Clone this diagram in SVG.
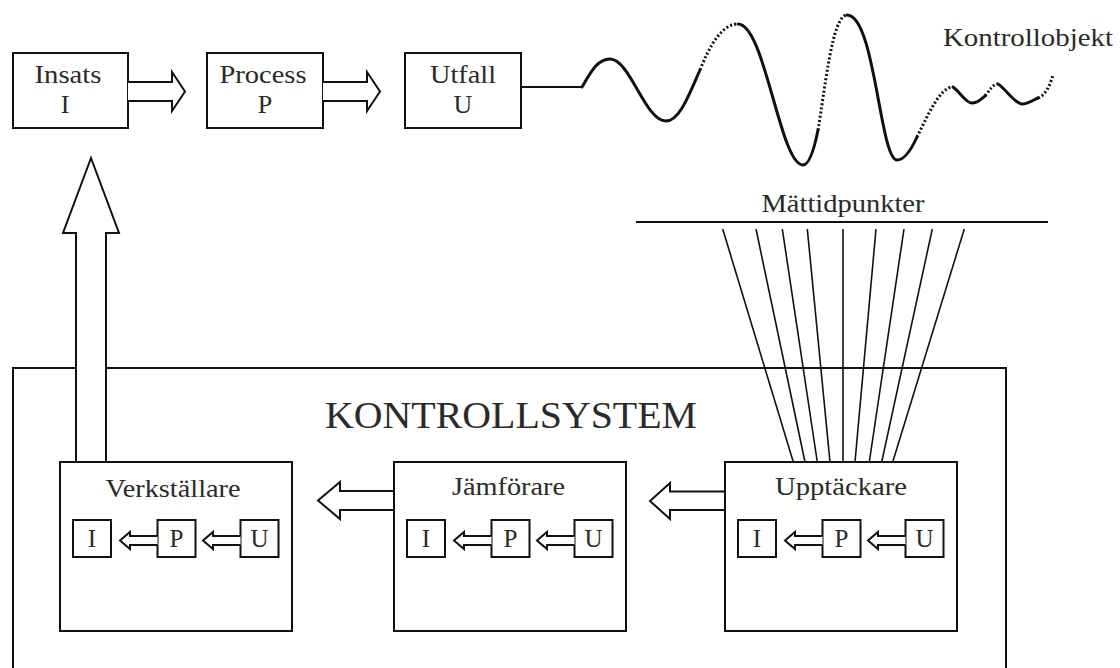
<svg xmlns="http://www.w3.org/2000/svg" width="1120" height="668" viewBox="0 0 1120 668">
<style>
.box{fill:#fff;stroke:#111;stroke-width:2}
.arr{fill:#fff;stroke:#111;stroke-width:2;stroke-linejoin:miter}
.ln{fill:none;stroke:#111;stroke-width:2}
.fan{fill:none;stroke:#111;stroke-width:1.6}
.wv{fill:none;stroke:#111;stroke-width:3;stroke-linecap:round;stroke-linejoin:round}
.dot{fill:none;stroke:#111;stroke-width:3;stroke-dasharray:2 2.2}
text{font-family:"Liberation Serif","Times New Roman",serif;fill:#2a2a2a;text-anchor:middle}
.t{font-size:26px}
.s{font-size:25px}
</style>
<rect width="1120" height="668" fill="#fff"/>

<g id="kontrollsystem">
<path class="ln" d="M13,668 V368 H1006 V668"/>
<text x="511" y="428" style="font-size:38px" textLength="372" lengthAdjust="spacingAndGlyphs">KONTROLLSYSTEM</text>
</g>

<g id="insats">
<rect class="box" x="13" y="53" width="115" height="75"/>
<text class="t" x="68" y="83" textLength="67" lengthAdjust="spacingAndGlyphs">Insats</text>
<text class="t" x="65" y="113">I</text>
</g>
<g id="process">
<rect class="box" x="207" y="53" width="116" height="75"/>
<text class="t" x="263" y="83" textLength="87" lengthAdjust="spacingAndGlyphs">Process</text>
<text class="t" x="265" y="113">P</text>
</g>
<g id="utfall">
<rect class="box" x="405" y="53" width="116" height="75"/>
<text class="t" x="463" y="83" textLength="66" lengthAdjust="spacingAndGlyphs">Utfall</text>
<text class="t" x="463" y="113">U</text>
</g>

<g id="kontrollobjekt">
<path class="wv" d="M582,87 C592,70 598,59 610,59 C630,59 645,121 666,121 C680,121 690,92 700,70"/>
<path class="dot" d="M700,70 C710,45 722,24 738,24"/>
<path class="wv" d="M738,24 C765,24 780,165 803,165 C810,165 815,145 818,130"/>
<path class="dot" d="M818,130 C825,90 832,15 847,15"/>
<path class="wv" d="M847,15 C875,15 880,160 897,160 C905,160 912,148 917,137"/>
<path class="dot" d="M917,137 C928,115 940,87 953,87"/>
<path class="wv" d="M953,87 C960,92 966,103 972,103 C978,103 981,99 985,96"/>
<path class="dot" d="M985,96 C990,90 993,84 998,84"/>
<path class="wv" d="M998,84 C1005,88 1015,104 1022,104 C1028,104 1033,100 1038,98"/>
<path class="dot" d="M1038,98 C1046,95 1050,85 1053,75"/>
<text class="t" x="1028" y="46" textLength="170" lengthAdjust="spacingAndGlyphs">Kontrollobjekt</text>
</g>

<g id="mattidpunkter">
<line class="ln" x1="636" y1="222" x2="1048" y2="222"/>
<text class="s" x="843" y="212" textLength="163" lengthAdjust="spacingAndGlyphs">Mättidpunkter</text>
</g>

<g id="connectors">
<path class="ln" d="M521,87 H582"/>
<path class="arr" d="M128,82 H172 V72 L185,91.5 L172,111 V101 H128"/>
<path class="arr" d="M323,82 H367 V72 L380,91.5 L367,111 V101 H323"/>
<path class="arr" d="M76,462 V233 H63 L91,158 L119,233 H106 V462"/>
<path class="arr" d="M394,491 H340 V482 L318,500.5 L340,519 V510 H394"/>
<path class="arr" d="M725,491.5 H670 V483 L650,501 L670,519 V510 H725"/>
<g class="fan-lines">
<line class="fan" x1="722.7" y1="229" x2="793.3" y2="462"/>
<line class="fan" x1="756" y1="229" x2="805" y2="462"/>
<line class="fan" x1="782.3" y1="229" x2="817.3" y2="462"/>
<line class="fan" x1="807.3" y1="229" x2="830" y2="462"/>
<line class="fan" x1="843" y1="229" x2="843" y2="462"/>
<line class="fan" x1="876" y1="229" x2="855" y2="462"/>
<line class="fan" x1="904" y1="229" x2="869.3" y2="462"/>
<line class="fan" x1="932.3" y1="229" x2="881.7" y2="462"/>
<line class="fan" x1="964.3" y1="229" x2="892.7" y2="462"/>
</g>
</g>

<g id="verkstallare">
<rect class="box" x="60" y="462" width="232" height="169"/>
<text class="t" x="173" y="497" textLength="135" lengthAdjust="spacingAndGlyphs">Verkställare</text>
<rect class="box" x="73" y="520" width="38" height="37"/>
<rect class="box" x="157.5" y="520" width="38" height="37"/>
<rect class="box" x="240.5" y="520" width="38" height="37"/>
<text class="s" x="92" y="547">I</text>
<text class="s" x="176.5" y="547">P</text>
<text class="s" x="259.5" y="547">U</text>
<path class="arr" d="M157.5,536 H130 V532 L120,540.5 L130,549 V545 H157.5"/>
<path class="arr" d="M240.5,536 H213 V532 L203,540.5 L213,549 V545 H240.5"/>
</g>

<g id="jamforare">
<rect class="box" x="394" y="462" width="232" height="169"/>
<text class="t" x="508.5" y="495" textLength="113" lengthAdjust="spacingAndGlyphs">Jämförare</text>
<rect class="box" x="407" y="520" width="38" height="37"/>
<rect class="box" x="491.5" y="520" width="38" height="37"/>
<rect class="box" x="574.5" y="520" width="38" height="37"/>
<text class="s" x="426" y="547">I</text>
<text class="s" x="510.5" y="547">P</text>
<text class="s" x="593.5" y="547">U</text>
<path class="arr" d="M491.5,536 H464 V532 L454,540.5 L464,549 V545 H491.5"/>
<path class="arr" d="M574.5,536 H547 V532 L537,540.5 L547,549 V545 H574.5"/>
</g>

<g id="upptackare">
<rect class="box" x="725" y="462" width="232" height="169"/>
<text class="t" x="841" y="495" textLength="132" lengthAdjust="spacingAndGlyphs">Upptäckare</text>
<rect class="box" x="738" y="520" width="38" height="37"/>
<rect class="box" x="822.5" y="520" width="38" height="37"/>
<rect class="box" x="905.5" y="520" width="38" height="37"/>
<text class="s" x="757" y="547">I</text>
<text class="s" x="841.5" y="547">P</text>
<text class="s" x="924.5" y="547">U</text>
<path class="arr" d="M822.5,536 H795 V532 L785,540.5 L795,549 V545 H822.5"/>
<path class="arr" d="M905.5,536 H878 V532 L868,540.5 L878,549 V545 H905.5"/>
</g>
</svg>
